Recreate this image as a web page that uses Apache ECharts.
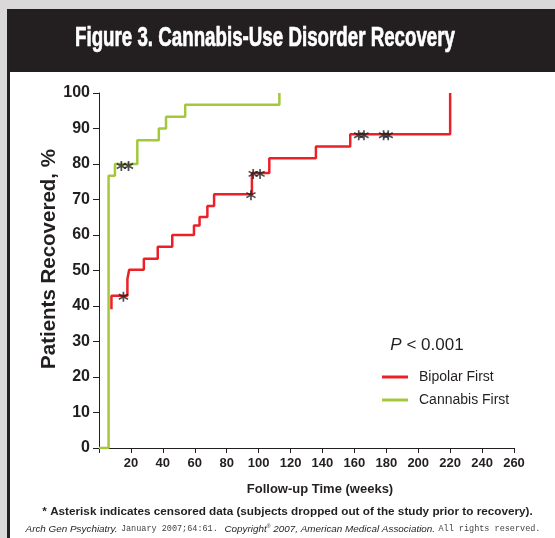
<!DOCTYPE html>
<html>
<head>
<meta charset="utf-8">
<script src="https://cdn.jsdelivr.net/npm/echarts@6/dist/echarts.min.js"></script>
<style>
  html, body { margin: 0; padding: 0; background: #d9d9d9; }
  #chart { width: 555px; height: 538px; }
</style>
</head>
<body>
<div id="chart"></div>
<script>
// Kaplan-Meier recovery curves: follow-up week at which the curve steps, and % recovered after the step
const bipolarWeeks     = [7.8, 7.8, 17.8, 18.9, 28.1, 36.8, 45.9, 59.5, 63.0, 67.9, 72.1, 95.8, 106.7, 135.9, 157.4, 220];
const bipolarRecovered = [39.1, 42.9, 47.6, 50.2, 53.3, 56.7, 60.0, 62.7, 65.1, 68.2, 71.5, 77.5, 81.6, 84.9, 88.4, 100];

const cannabisWeeks     = [0, 6, 10, 24, 37.5, 42, 54, 113];
const cannabisRecovered = [0, 76.7, 80, 86.7, 90, 93.3, 96.7, 100];

// Censored subjects (drawn as asterisks on the curves)
const bipolarCensoredWeeks     = [15.3, 95.2, 96.6, 100.9, 162.7, 166, 178.3, 181.2];
const bipolarCensoredRecovered = [42.9, 71.5, 77.5, 77.5, 88.4, 88.4, 88.4, 88.4];
const cannabisCensoredWeeks     = [14, 18.5];
const cannabisCensoredRecovered = [80, 80];

// Axis ticks
const xTickLabels = [0, 20, 40, 60, 80, 100, 120, 140, 160, 180, 200, 220, 240, 260];
const yTickLabels = [0, 10, 20, 30, 40, 50, 60, 70, 80, 90, 100];

const INK = '#231f20';
const RED = '#ec2027';
const GREEN = '#a3c83a';
const SANS = '"Liberation Sans", Arial, Helvetica, sans-serif';
const MONO = '"Liberation Mono", "Courier New", monospace';

// Six-armed asterisk marker
const ASTERISK = 'path://M-1.6,-10L1.6,-10L1.6,10L-1.6,10Z' +
  'M7.86,-6.39L9.46,-3.61L-7.86,6.39L-9.46,3.61Z' +
  'M-9.46,-3.61L-7.86,-6.39L9.46,3.61L7.86,6.39Z';

const pairs = (xs, ys) => xs.map((x, i) => [x, ys[i]]);

// text measuring used to fit headline/footer widths
const measureCtx = document.createElement('canvas').getContext('2d');
function textWidth(font, text) { measureCtx.font = font; return measureCtx.measureText(text).width; }

const titleText = 'Figure 3. Cannabis-Use Disorder Recovery';
const titleFont = 'bold 27px ' + SANS;
const titleScaleX = 380 / textWidth(titleFont, titleText);

const yNameText = 'Patients Recovered, %';
const yNameSize = 220 / textWidth('bold 1px ' + SANS, yNameText);

const noteText = '* Asterisk indicates censored data (subjects dropped out of the study prior to recovery).';
const noteSize = 491 / textWidth('bold 1px ' + SANS, noteText);

const chart = echarts.init(document.getElementById('chart'), null, { renderer: 'canvas' });

chart.setOption({
  animation: false,
  backgroundColor: '#d9d9d9',
  grid: { left: 99, right: 41, top: 93, bottom: 90, containLabel: false },
  xAxis: {
    type: 'value',
    min: xTickLabels[0],
    max: xTickLabels[xTickLabels.length - 1],
    interval: xTickLabels[1] - xTickLabels[0],
    splitLine: { show: false },
    axisLine: { lineStyle: { color: INK, width: 1 } },
    axisTick: { length: 5, lineStyle: { color: INK } },
    axisLabel: {
      margin: 9, color: INK, fontFamily: SANS, fontWeight: 'bold', fontSize: 13,
      formatter: v => (v === 0 ? '' : String(v))
    }
  },
  yAxis: {
    type: 'value',
    min: yTickLabels[0],
    max: yTickLabels[yTickLabels.length - 1],
    interval: yTickLabels[1] - yTickLabels[0],
    splitLine: { show: false },
    axisLine: { show: true, lineStyle: { color: INK, width: 1 } },
    axisTick: { show: true, length: 6, lineStyle: { color: INK } },
    axisLabel: { margin: 9, color: INK, fontFamily: SANS, fontWeight: 'bold', fontSize: 16 }
  },
  legend: {
    data: ['Bipolar First', 'Cannabis First'],
    orient: 'vertical',
    left: 377, top: 365,
    icon: 'rect',
    itemWidth: 26, itemHeight: 3, itemGap: 9,
    textStyle: { color: INK, fontFamily: SANS, fontSize: 14, padding: [0, 0, 0, 6] }
  },
  series: [
    {
      name: 'Bipolar First', type: 'line', step: 'end',
      data: pairs(bipolarWeeks, bipolarRecovered),
      symbol: 'none', lineStyle: { color: RED, width: 2.5 }, itemStyle: { color: RED }, z: 3
    },
    {
      name: 'Cannabis First', type: 'line', step: 'end',
      data: pairs(cannabisWeeks, cannabisRecovered),
      symbol: 'none', lineStyle: { color: GREEN, width: 2.5 }, itemStyle: { color: GREEN }, z: 3
    },
    {
      name: 'censored-bipolar', type: 'scatter',
      data: pairs(bipolarCensoredWeeks, bipolarCensoredRecovered),
      symbol: ASTERISK, symbolSize: 10, symbolOffset: [0, 1], itemStyle: { color: INK }, z: 5
    },
    {
      name: 'censored-cannabis', type: 'scatter',
      data: pairs(cannabisCensoredWeeks, cannabisCensoredRecovered),
      symbol: ASTERISK, symbolSize: 10, symbolOffset: [0, 2], itemStyle: { color: INK }, z: 5
    }
  ],
  graphic: [
    // dark frame with headline band, white plotting panel
    { type: 'rect', z: -2, shape: { x: 7, y: 9, width: 548, height: 529 }, style: { fill: INK } },
    { type: 'rect', z: -1, shape: { x: 10, y: 72, width: 545, height: 466 }, style: { fill: '#ffffff' } },
    {
      type: 'text', z: 10, x: 265, y: 39, scaleX: titleScaleX,
      style: { text: titleText, font: titleFont, fill: '#ffffff', stroke: '#ffffff', lineWidth: 0.7,
               align: 'center', verticalAlign: 'middle' }
    },
    {
      type: 'text', z: 10, x: 49, y: 259, rotation: Math.PI / 2,
      style: { text: yNameText, fontFamily: SANS, fontWeight: 'bold', fontSize: yNameSize,
               fill: INK, align: 'center', verticalAlign: 'middle' }
    },
    {
      type: 'text', z: 10, x: 320, y: 489,
      style: { text: 'Follow-up Time (weeks)', fontFamily: SANS, fontWeight: 'bold', fontSize: 13,
               fill: INK, align: 'center', verticalAlign: 'middle' }
    },
    {
      type: 'text', z: 10, x: 427, y: 345,
      style: {
        text: '{i|P} < 0.001', fontFamily: SANS, fontSize: 17, fill: INK, align: 'center', verticalAlign: 'middle',
        rich: { i: { fontStyle: 'italic', fontFamily: SANS, fontSize: 17, fill: INK } }
      }
    },
    {
      type: 'text', z: 10, x: 287.5, y: 512,
      style: { text: noteText, fontFamily: SANS, fontWeight: 'bold', fontSize: noteSize,
               fill: INK, align: 'center', verticalAlign: 'middle' }
    },
    {
      type: 'text', z: 10, x: 283, y: 529,
      style: {
        text: '{i|Arch Gen Psychiatry.} {m|January 2007;64:61.}  {i|Copyright}{s|®}{i| 2007, American Medical Association.} {m|All rights reserved.}',
        align: 'center', verticalAlign: 'middle', fill: INK,
        rich: {
          i: { fontFamily: SANS, fontStyle: 'italic', fontSize: 9.9, fill: INK },
          m: { fontFamily: MONO, fontSize: 8.5, fill: '#444' },
          s: { fontFamily: SANS, fontSize: 5, fill: INK, padding: [0, 0, 5, 0] }
        }
      }
    }
  ]
});
</script>
</body>
</html>
